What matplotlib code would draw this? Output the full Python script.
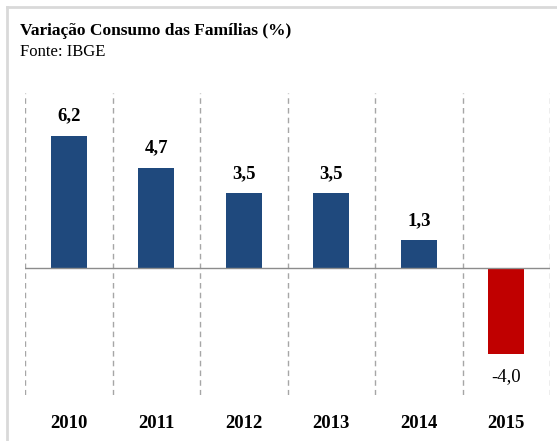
import matplotlib
matplotlib.use('Agg')
import matplotlib.pyplot as plt
from matplotlib.lines import Line2D

years = ['2010', '2011', '2012', '2013', '2014', '2015']
values = [6.2, 4.7, 3.5, 3.5, 1.3, -4.0]
colors = ['#1F497D', '#1F497D', '#1F497D', '#1F497D', '#1F497D', '#C00000']

plt.rcParams['font.family'] = ['Liberation Serif', 'DejaVu Serif']

fig = plt.figure(figsize=(5.57, 4.41), dpi=100)
ax = fig.add_axes([25/557, 1 - 395/441, 525/557, 302/441])

x = range(len(years))
ax.bar(x, values, width=0.41, color=colors, zorder=3)

# value labels
for i, v in enumerate(values):
    lbl = ('%.1f' % v).replace('.', ',')
    if v >= 0:
        ax.annotate(lbl, (i, v), xytext=(0, 8), textcoords='offset points',
                    ha='center', va='bottom', fontsize=13.5, fontweight='bold')
    else:
        ax.annotate(lbl, (i, v), xytext=(0, -10), textcoords='offset points',
                    ha='center', va='top', fontsize=13.5)

ax.set_xlim(-0.5, len(years) - 0.5)
ax.set_ylim(-5.93, 8.2)
ax.axhline(0, color='#8C8C8C', lw=1, zorder=4)

# dashed separators between categories
for b in range(len(years) + 1):
    ax.axvline(b - 0.5, color='#A6A6A6', lw=1, ls=(0, (4, 3)), zorder=1)

ax.set_yticks([])
ax.set_xticks([])
for s in ax.spines.values():
    s.set_visible(False)

for i, y in enumerate(years):
    fig.text((25 + 87.5 * (i + 0.5)) / 557, 1 - 424/441, y, ha='center', va='center',
             fontsize=13.5, fontweight='bold')

fig.text(20/557, 1 - 31/441, 'Variação Consumo das Famílias (%)', ha='left', va='center',
         fontsize=12.5, fontweight='bold')
fig.text(20/557, 1 - 52/441, 'Fonte: IBGE', ha='left', va='center', fontsize=12)

# light frame on top and left
fig.add_artist(Line2D([7/557, 1], [1 - 7/441, 1 - 7/441], color='#D9D9D9', lw=2))
fig.add_artist(Line2D([7/557, 7/557], [0, 1 - 7/441], color='#D9D9D9', lw=2))

fig.savefig('out.png', dpi=100)
